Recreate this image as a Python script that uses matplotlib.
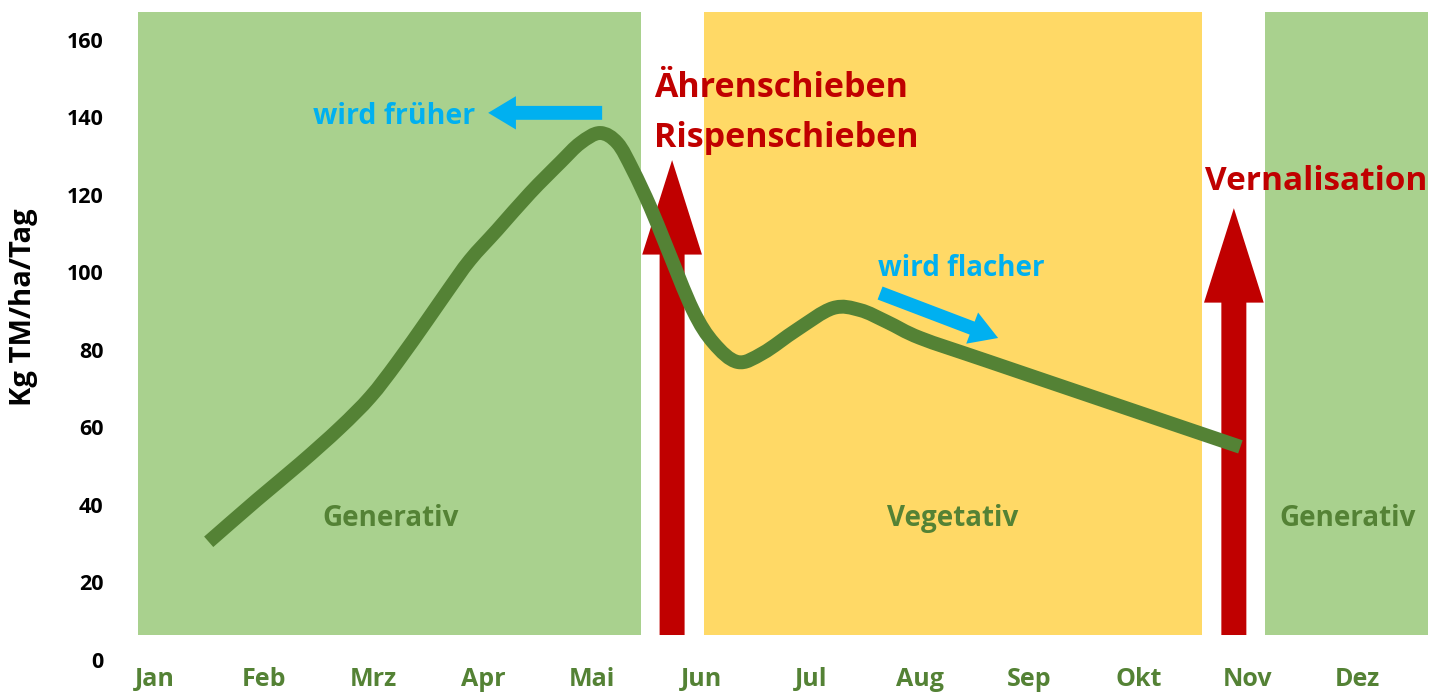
import matplotlib
matplotlib.use("Agg")
import matplotlib.pyplot as plt
import matplotlib.patches as mpatches
from matplotlib.path import Path

plt.rcParams['font.family'] = ['Open Sans', 'DejaVu Sans']

# --- data ---
months = ["Jan", "Feb", "Mrz", "Apr", "Mai", "Jun", "Jul", "Aug", "Sep", "Okt", "Nov", "Dez"]
y_ticks = [0, 20, 40, 60, 80, 100, 120, 140, 160]

# growth curve, x in month index units
curve_x = [0.49, 0.93, 1.33, 1.69, 1.97, 2.21, 2.49, 2.67, 2.88, 3.13, 3.43, 3.71, 3.89,
           4.07, 4.23, 4.37, 4.53, 4.68, 4.92, 5.11, 5.33, 5.56, 5.87, 6.20, 6.45,
           6.70, 7.00, 7.61, 8.80, 9.93]
curve_y = [30.5, 41.3, 50.8, 59.9, 67.9, 76.6, 87.7, 95.0, 103.2, 111.0, 120.5, 128.5, 133.4,
           136.0, 133.4, 126.5, 116.9, 106.6, 90.3, 81.8, 76.9, 79.2, 85.2, 90.8, 90.3,
           87.2, 83.1, 77.2, 65.8, 55.0]

# phases (background bands)
phases = [("Generativ", -0.156, 4.446, "#A9D18E"),
          ("Vegetativ", 5.023, 9.579, "#FFD966"),
          ("Generativ", 10.156, 11.647, "#A9D18E")]
phase_label_x = [2.15, 7.30, 10.906]

GREEN = "#548235"
RED = "#C00000"
BLUE = "#00B0F0"


def smooth_path(xs, ys):
    # bezier path through the points (like a smoothed excel line)
    pts = list(zip(xs, ys))
    verts = [pts[0]]
    codes = [Path.MOVETO]
    n = len(pts)
    for i in range(n - 1):
        p0 = pts[i - 1] if i > 0 else pts[i]
        p1, p2 = pts[i], pts[i + 1]
        p3 = pts[i + 2] if i + 2 < n else pts[i + 1]
        c1 = (p1[0] + (p2[0] - p0[0]) / 6, p1[1] + (p2[1] - p0[1]) / 6)
        c2 = (p2[0] - (p3[0] - p1[0]) / 6, p2[1] - (p3[1] - p1[1]) / 6)
        verts += [c1, c2, p2]
        codes += [Path.CURVE4] * 3
    return Path(verts, codes)


fig = plt.figure(figsize=(14.45, 6.93), dpi=100)
ax = fig.add_axes([100.5 / 1445, 33 / 693, (1412 - 100.5) / 1445, 620 / 693])
ax.set_xlim(-0.5, 11.5)
ax.set_ylim(0, 160)

band_bottom, band_top = 6.45, 167.2
for (name, x0, x1, col), lx in zip(phases, phase_label_x):
    ax.add_patch(mpatches.Rectangle((x0, band_bottom), x1 - x0, band_top - band_bottom,
                                    facecolor=col, edgecolor='none', clip_on=False, zorder=0))
    ax.text(lx, 34.6, name, color=GREEN, fontsize=20, fontweight='bold',
            ha='center', va='baseline', zorder=3)

# red arrows (events)
for xa, tip in [(4.73, 129.0), (9.87, 116.6)]:
    ax.annotate("", xy=(xa, tip), xytext=(xa, band_bottom),
                arrowprops=dict(arrowstyle="simple,tail_width=18,head_width=43,head_length=68",
                                mutation_scale=1, color=RED, shrinkA=0, shrinkB=0,
                                linewidth=0),
                annotation_clip=False, zorder=2)

# curve
ax.add_patch(mpatches.PathPatch(smooth_path(curve_x, curve_y), facecolor='none',
                                edgecolor=GREEN, linewidth=10, capstyle='butt',
                                joinstyle='round', zorder=4, clip_on=False))

# blue arrows
for (xt, yt), (xh, yh) in [((4.09, 141.2), (3.047, 141.2)), ((6.633, 94.7), (7.713, 83.1))]:
    ax.annotate("", xy=(xh, yh), xytext=(xt, yt),
                arrowprops=dict(arrowstyle="simple,tail_width=10,head_width=24,head_length=20",
                                mutation_scale=1, color=BLUE, shrinkA=0, shrinkB=0,
                                linewidth=0),
                annotation_clip=False, zorder=5)

ax.text(2.93, 138.3, "wird früher", color=BLUE, fontsize=20.5, fontweight='bold',
        ha='right', va='baseline', zorder=5)
ax.text(6.615, 99.1, "wird flacher", color=BLUE, fontsize=20, fontweight='bold',
        ha='left', va='baseline', zorder=5)
ax.text(4.565, 145.3, "Ährenschieben", color=RED, fontsize=24.5, fontweight='bold',
        ha='left', va='baseline', zorder=5)
ax.text(4.565, 132.4, "Rispenschieben", color=RED, fontsize=24.5, fontweight='bold',
        ha='left', va='baseline', zorder=5)
ax.text(9.607, 121.3, "Vernalisation", color=RED, fontsize=24, fontweight='bold',
        ha='left', va='baseline', zorder=5, clip_on=False)

ax.set_xticks(range(len(months)))
ax.set_xticklabels(months, color=GREEN, fontsize=18, fontweight='bold')
ax.set_yticks(y_ticks)
ax.set_yticklabels([str(v) for v in y_ticks], color='black', fontsize=15.5, fontweight='bold')
ax.tick_params(axis='both', length=0)
ax.tick_params(axis='y', pad=-2)
ax.tick_params(axis='x', pad=5)
for spine in ax.spines.values():
    spine.set_visible(False)

fig.text(24 / 1445, 1 - 307 / 693, "Kg TM/ha/Tag", rotation=90, ha='center', va='center',
         fontsize=21, fontweight='bold', color='black')

fig.savefig("out.png", dpi=100)
